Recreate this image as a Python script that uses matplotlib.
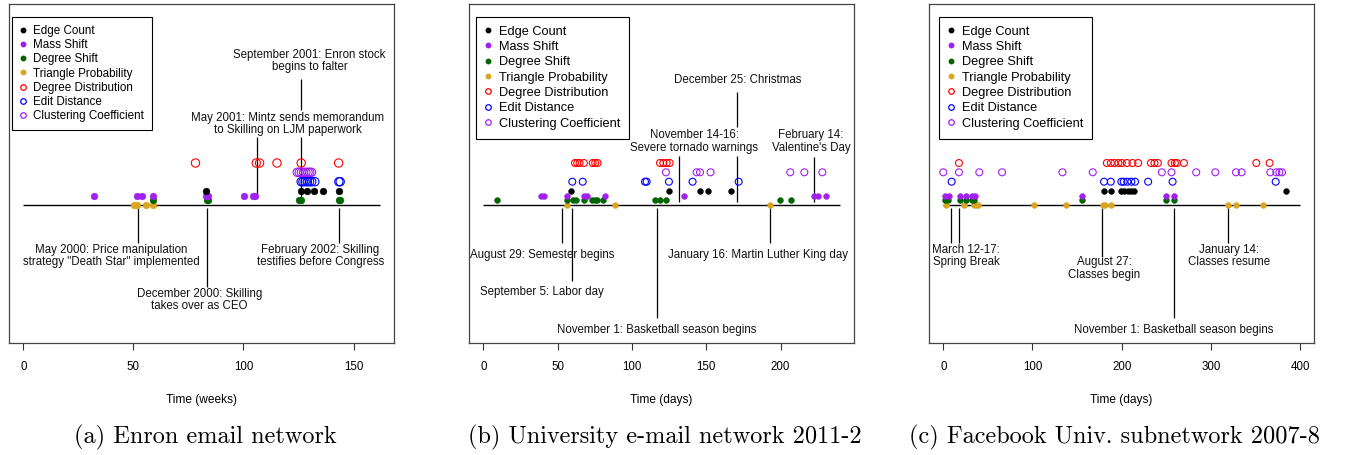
import matplotlib
matplotlib.use("Agg")
import matplotlib.pyplot as plt
from matplotlib.lines import Line2D

plt.rcParams["font.family"] = ["Liberation Sans", "DejaVu Sans"]

W, H, DPI = 1348, 455, 100

# --- data: change points per method -------------------------------------
SERIES = ["Edge Count", "Mass Shift", "Degree Shift", "Triangle Probability",
          "Degree Distribution", "Edit Distance", "Clustering Coefficient"]

# (a) Enron, weeks
enron_edge = [83.2, 126, 128.8, 132, 136, 143.2]
enron_mass = [32.1, 51.8, 54.1, 59.1, 83.2, 84.0, 100.2, 104.1, 105.3]
enron_degree = [59.1, 83.3, 84.0, 125.3, 126.0, 143.3, 144.0]
enron_triangle = [50.1, 51.8, 55.6, 59.1]
enron_degdist = [78.2, 105.8, 107.3, 115.2, 126.2, 143.2]
enron_edit = [126.2, 127, 128, 129, 130, 131, 132.4, 143.3, 143.9]
enron_clust = [124.4, 125.3, 126.3, 127.3, 128.3, 129.3, 130.1, 130.9]

# (b) University e-mail, days
univ_edge = [59, 124.7, 145.8, 150.9, 166.8]
univ_mass = [38.8, 40.8, 56.1, 67.7, 69.8, 81.9, 134.8, 222.5, 225, 230.3]
univ_degree = [9, 56.1, 60.5, 62.2, 67.7, 73.3, 75.1, 76.7, 80.7,
               115.5, 118.9, 122.9, 199.6, 206.8]
univ_triangle = [56.1, 88.6, 192.9]
univ_degdist = [61.7, 63.2, 64.8, 67.7, 73.6, 75.3, 76.9, 118.9, 121.1, 123.4, 125.4]
univ_edit = [59.9, 66.9, 108.8, 109.9, 124.9, 140.8, 171.8]
univ_clust = [122.9, 143.5, 145.8, 152.9, 206.5, 216, 228.1]

# (c) Facebook, days
fb_edge = [180.7, 187.9, 199.4, 202.8, 207.6, 210.7, 214, 384.3]
fb_mass = [1.5, 6.7, 18.7, 25.5, 31.9, 35.6, 155.3, 250, 258.2]
fb_degree = [1.9, 5.6, 18.7, 25.5, 31.9, 34.5, 155.3, 250, 258.2]
fb_triangle = [2.7, 23.6, 34.5, 37, 39.3, 101.8, 137.7, 179.6, 181.1, 188.2,
               319.2, 328.2, 358]
fb_degdist = [17.6, 183.4, 187.9, 191.9, 196.4, 200.2, 205.8, 212.1, 218.5,
              232.8, 236.8, 240.6, 255.9, 259.6, 261.9, 269.8, 351, 365.9]
fb_edit = [9.4, 180.3, 187.8, 199.7, 202.3, 206.4, 210.9, 215, 229.7, 257.1, 372.7]
fb_clust = [0, 17.6, 40.4, 65.9, 133.6, 167.6, 245.1, 255.9, 283.6, 305,
            328.2, 334.5, 366.7, 373.4, 376.8, 379.8]

# events
enron_events = [126, 106, 52, 83.3, 143.2]
enron_labels = ["September 2001: Enron stock\nbegins to falter",
                "May 2001: Mintz sends memorandum\nto Skilling on LJM paperwork",
                "May 2000: Price manipulation\nstrategy \"Death Star\" implemented",
                "December 2000: Skilling\ntakes over as CEO",
                "February 2002: Skilling\ntestifies before Congress"]
univ_events = [171, 131.9, 222.7, 53, 60, 117, 193]
univ_labels = ["December 25: Christmas",
               "November 14-16:\nSevere tornado warnings",
               "February 14:\nValentine's Day",
               "August 29: Semester begins",
               "September 5: Labor day",
               "November 1: Basketball season begins",
               "January 16: Martin Luther King day"]
fb_events = [8.5, 17.5, 178.5, 259, 319.2]
fb_labels = [None, "March 12-17:\nSpring Break", "August 27:\nClasses begin",
             "November 1: Basketball season begins", "January 14:\nClasses resume"]

CAPTIONS = ["(a) Enron email network", "(b) University e-mail network 2011-2",
            "(c) Facebook Univ. subnetwork 2007-8"]

# --- styles / layout ----------------------------------------------------
COLORS = ["black", "#a020f0", "#006400", "#daa520", "red", "blue", "#a020f0"]
FILLED = [True, True, True, True, False, False, False]
LEVEL_PX = [191, 195.7, 200.3, 205, 163, 181.7, 172.3]   # y in pixel units
BASE = 205
TOP, BOTTOM = 4, 343.3


def draw_panel(left_px, xmax, ticks, xlabel, series, events, labels,
               text_pos, stems, fsize, osize, leg_fs, leg_off, leg_sp,
               caption, cap_x):
    ax = fig.add_axes([left_px / W, 1 - BOTTOM / H, 385.3 / W, (BOTTOM - TOP) / H])
    pad = 0.04 * xmax
    ax.set_xlim(-pad, xmax + pad)
    ax.set_ylim(BOTTOM, TOP)
    ax.hlines(BASE, 0, xmax, color="black", lw=1.0, zorder=1)
    order = [3, 2, 1, 0, 4, 5, 6]
    for i in order:
        xs = series[i]
        if FILLED[i]:
            ax.scatter(xs, [LEVEL_PX[i]] * len(xs), s=fsize, color=COLORS[i],
                       edgecolors=COLORS[i], linewidths=0.3, zorder=3)
        else:
            ax.scatter(xs, [LEVEL_PX[i]] * len(xs), s=osize, facecolors="none",
                       edgecolors=COLORS[i], linewidths=0.8, zorder=3)
    for ev, segs in zip(events, stems):
        for y0, y1 in segs:
            ax.vlines(ev, y0, y1, color="black", lw=0.9, zorder=2)
    for lab, (tx, ty) in zip(labels, text_pos):
        if lab is None:
            continue
        ax.text(tx, ty, lab, ha="center", va="center", fontsize=8.3,
                linespacing=1.05, color="#111111")
    ax.set_xticks(ticks)
    ax.set_xticklabels([str(t) for t in ticks], fontsize=8.3)
    ax.set_yticks([])
    ax.tick_params(axis="x", direction="out", length=5, width=0.8, pad=8,
                   color="#333333")
    ax.set_xlabel(xlabel, fontsize=8.6, labelpad=15)
    for sp in ax.spines.values():
        sp.set_color("#444444")
        sp.set_linewidth(0.9)
    handles = []
    for i, name in enumerate(SERIES):
        if FILLED[i]:
            handles.append(Line2D([], [], ls="none", marker="o", ms=3.2,
                                  color=COLORS[i], label=name))
        else:
            handles.append(Line2D([], [], ls="none", marker="o", ms=4.0,
                                  mfc="none", mec=COLORS[i], mew=0.9, label=name))
    leg = ax.legend(handles=handles, loc="upper left",
                    bbox_to_anchor=(leg_off / 385.3, 1 - 12.7 / (BOTTOM - TOP)),
                    fontsize=leg_fs, frameon=True, fancybox=False,
                    edgecolor="black", framealpha=1, borderpad=0.7,
                    handlelength=0.5, handletextpad=0.6, labelspacing=leg_sp,
                    borderaxespad=0)
    leg.get_frame().set_linewidth(0.8)
    fig.text(cap_x / W, 1 - 437.5 / H, caption, ha="center", va="center",
             family="cmr10", fontsize=17.5)
    return ax


fig = plt.figure(figsize=(W / DPI, H / DPI), dpi=DPI)

draw_panel(9, 162, [0, 50, 100, 150], "Time (weeks)",
           [enron_edge, enron_mass, enron_degree, enron_triangle,
            enron_degdist, enron_edit, enron_clust],
           enron_events, enron_labels,
           [(130, 61), (120.2, 124), (40, 256), (80, 300), (135, 256)],
           [[(79, 110), (137, 203)], [(137, 195)], [(208, 243)],
            [(208, 287)], [(208, 243)]],
           24, 36, 8.4, 3.3, 0.19, CAPTIONS[0], 205.7)

draw_panel(469, 240, [0, 50, 100, 150, 200], "Time (days)",
           [univ_edge, univ_mass, univ_degree, univ_triangle,
            univ_degdist, univ_edit, univ_clust],
           univ_events, univ_labels,
           [(171, 80), (142, 141.5), (220.5, 141.5), (39.8, 255),
            (39.7, 292), (116.7, 330), (184.6, 255)],
           [[(92, 127), (156, 202)], [(156, 202)], [(157, 202)],
            [(208, 243)], [(208, 281)], [(208, 318)], [(208, 243)]],
           18, 25, 9.2, 6.7, 0.26, CAPTIONS[1], 665.3)

draw_panel(929, 400, [0, 100, 200, 300, 400], "Time (days)",
           [fb_edge, fb_mass, fb_degree, fb_triangle,
            fb_degdist, fb_edit, fb_clust],
           fb_events, fb_labels,
           [(0, 0), (25.8, 256), (180.4, 268.5), (258.7, 330), (320.4, 256)],
           [[(208, 243)], [(208, 243)], [(208, 257)], [(208, 318)], [(208, 243)]],
           18, 25, 9.2, 10, 0.26, CAPTIONS[2], 1114.5)

fig.savefig("out.png", dpi=DPI)
